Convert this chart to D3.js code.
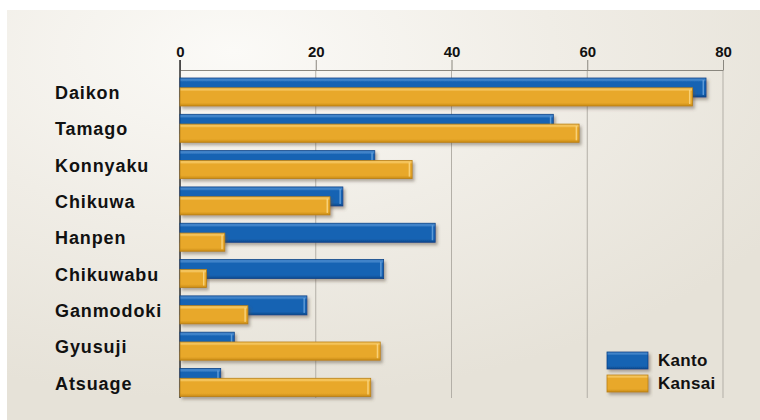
<!DOCTYPE html>
<html>
<head>
<meta charset="utf-8">
<script src="https://cdn.jsdelivr.net/npm/d3@7"></script>
<style>
  body { margin: 0; background: #fff; }
  svg { display: block; font-family: "Liberation Sans", Arial, Helvetica, sans-serif; }
</style>
</head>
<body>
<div id="chart"></div>
<script>
// Data
var categories = ["Daikon", "Tamago", "Konnyaku", "Chikuwa", "Hanpen", "Chikuwabu", "Ganmodoki", "Gyusuji", "Atsuage"];
var kanto  = [77.5, 55, 28.7, 24, 37.6, 30, 18.7, 8, 6];
var kansai = [75.5, 58.8, 34.2, 22.1, 6.6, 3.9, 10, 29.5, 28.1];
var seriesNames = ["Kanto", "Kansai"];
var xTicks = [0, 20, 40, 60, 80];

function init() {
    var width = 760;
    var height = 420;

    var svg = d3.select("#chart")
        .append("svg")
        .attr("width", width)
        .attr("height", height);

    var defs = svg.append("defs");

    // panel background
    var bg = defs.append("radialGradient")
        .attr("id", "bg")
        .attr("cx", "30%").attr("cy", "10%").attr("r", "85%");
    bg.append("stop").attr("offset", "0%").attr("stop-color", "#fbfaf7");
    bg.append("stop").attr("offset", "50%").attr("stop-color", "#f0ede6");
    bg.append("stop").attr("offset", "100%").attr("stop-color", "#e6e2d8");

    // bar gradients
    function barGrad(id, light, mid, dark) {
        var g = defs.append("linearGradient")
            .attr("id", id)
            .attr("x1", 0).attr("y1", 0).attr("x2", 0).attr("y2", 1);
        g.append("stop").attr("offset", "0%").attr("stop-color", light);
        g.append("stop").attr("offset", "12%").attr("stop-color", light);
        g.append("stop").attr("offset", "20%").attr("stop-color", mid);
        g.append("stop").attr("offset", "82%").attr("stop-color", mid);
        g.append("stop").attr("offset", "100%").attr("stop-color", dark);
    }
    barGrad("gKanto", "#3f83c9", "#1763b3", "#0c4a8e");
    barGrad("gKansai", "#f4c35a", "#e8a82a", "#c98b16");

    var shadow = defs.append("filter")
        .attr("id", "shadow")
        .attr("x", "-5%").attr("y", "-30%").attr("width", "115%").attr("height", "180%");
    shadow.append("feDropShadow")
        .attr("dx", 2).attr("dy", 2.5)
        .attr("stdDeviation", 1.6)
        .attr("flood-color", "#5a5040")
        .attr("flood-opacity", 0.45);

    svg.append("rect")
        .attr("x", 7).attr("y", 10)
        .attr("width", width - 7).attr("height", height - 10)
        .attr("fill", "url(#bg)");

    // Scales
    var x = d3.scaleLinear().domain([0, 80]).range([180, 723]);
    var y = d3.scaleBand()
        .domain(categories)
        .range([78, 396.5])
        .paddingInner(0.229)
        .paddingOuter(0);
    var bw = y.bandwidth();
    var gridBottom = 398;

    // Gridlines
    svg.append("g")
        .selectAll("line")
        .data(xTicks.filter(function (d) { return d > 0; }))
        .enter()
        .append("line")
        .attr("x1", function (d) { return x(d); })
        .attr("x2", function (d) { return x(d); })
        .attr("y1", 70)
        .attr("y2", gridBottom)
        .attr("stroke", "#b3afa7")
        .attr("stroke-width", 1);

    // Top axis
    var axis = svg.append("g")
        .attr("transform", "translate(0,70)")
        .call(d3.axisTop(x).tickValues(xTicks).tickSize(10).tickSizeOuter(0).tickPadding(3));
    axis.select(".domain").attr("stroke", "#8a877f");
    axis.selectAll(".tick line").attr("stroke", "#8a877f");
    axis.selectAll(".tick text")
        .attr("fill", "#111")
        .style("font-size", "15px")
        .style("font-weight", "bold");

    // Zero line
    svg.append("line")
        .attr("x1", x(0)).attr("x2", x(0))
        .attr("y1", 60).attr("y2", gridBottom)
        .attr("stroke", "#3a3a3a")
        .attr("stroke-width", 1.6);

    // Bars
    var rows = categories.map(function (c, i) {
        return { name: c, kanto: kanto[i], kansai: kansai[i] };
    });

    var group = svg.append("g")
        .selectAll("g")
        .data(rows)
        .enter()
        .append("g")
        .attr("transform", function (d) { return "translate(0," + y(d.name) + ")"; });

    function drawBar(sel, key, grad, edge, hl, yOff, h) {
        var b = sel.append("g").attr("filter", "url(#shadow)");
        b.append("rect")
            .attr("x", x(0))
            .attr("y", yOff)
            .attr("width", function (d) { return x(d[key]) - x(0); })
            .attr("height", h)
            .attr("fill", "url(#" + grad + ")")
            .attr("stroke", edge)
            .attr("stroke-width", 0.8);
        // bevel highlight at the end of the bar
        b.append("rect")
            .attr("x", function (d) { return x(d[key]) - 3.5; })
            .attr("y", yOff + 2)
            .attr("width", 1.5)
            .attr("height", h - 4)
            .attr("fill", hl)
            .attr("opacity", 0.8);
    }

    drawBar(group, "kanto", "gKanto", "#0b4388", "#6ea6de", 0, bw * 0.68);
    drawBar(group, "kansai", "gKansai", "#b97f12", "#fbd98a", bw * 0.35, bw * 0.65);

    // Category labels
    svg.append("g")
        .selectAll("text")
        .data(categories)
        .enter()
        .append("text")
        .attr("x", 55)
        .attr("y", function (d) { return y(d) + bw / 2 + 1; })
        .attr("dominant-baseline", "central")
        .attr("fill", "#111")
        .style("font-size", "18px")
        .style("font-weight", "bold")
        .style("letter-spacing", "0.9px")
        .text(function (d) { return d; });

    // Legend
    var legend = svg.append("g").attr("transform", "translate(607,352)");
    var lg = legend.selectAll("g")
        .data(seriesNames)
        .enter()
        .append("g")
        .attr("transform", function (d, i) { return "translate(0," + i * 23 + ")"; });
    lg.append("rect")
        .attr("width", 41)
        .attr("height", 17)
        .attr("fill", function (d, i) { return i === 0 ? "url(#gKanto)" : "url(#gKansai)"; })
        .attr("stroke", function (d, i) { return i === 0 ? "#0b4388" : "#b97f12"; })
        .attr("stroke-width", 0.8)
        .attr("filter", "url(#shadow)");
    lg.append("text")
        .attr("x", 51)
        .attr("y", 8.5)
        .attr("dominant-baseline", "central")
        .attr("fill", "#111")
        .style("font-size", "17px")
        .style("font-weight", "bold")
        .style("letter-spacing", "0.3px")
        .text(function (d) { return d; });
}

window.onload = init;
</script>
</body>
</html>
